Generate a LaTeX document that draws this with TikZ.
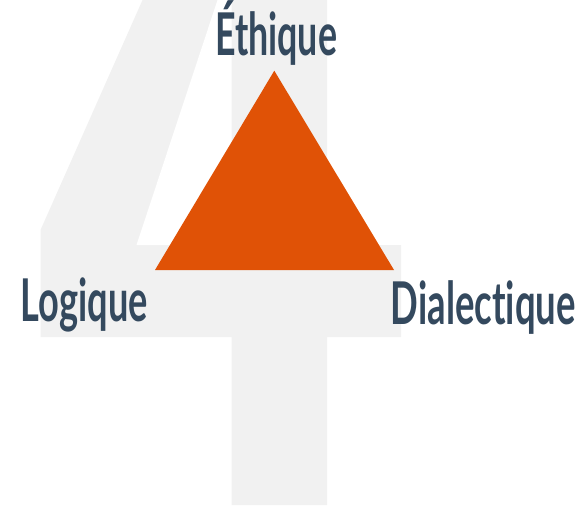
\documentclass[tikz,border=0pt]{standalone}
\usepackage{fontspec}
\setmainfont{Lato}[Ligatures={NoCommon}]
\usepackage{graphicx}
\definecolor{fourgrey}{HTML}{F1F1F1}
\definecolor{triorange}{HTML}{E05206}
\definecolor{labelblue}{HTML}{34495E}
\newcommand\fitlabel[2]{\resizebox{#1}{\height}{#2}}
\tikzset{
  lbl/.style={inner sep=0pt, anchor=base west, text=labelblue,
    font=\bfseries\fontsize{59}{59}\selectfont},
}
\begin{document}
\begin{tikzpicture}[x=1pt,y=-1pt]
\useasboundingbox (0,0) rectangle (585,505);
% big background "4"
\fill[fourgrey] (142.5,0) -- (40.5,230) -- (40.5,337) -- (231.5,337) -- (231.5,505)
  -- (327,505) -- (327,337) -- (401,337) -- (401,245) -- (327,245) -- (327,0) -- cycle;
\fill[white] (217.5,0) -- (136.5,245) -- (231.5,245) -- (231.5,0) -- cycle;
% triangle
\coordinate (apex) at (274.3,70.7);
\coordinate (bl) at (155,270);
\coordinate (br) at (394,270);
\fill[triorange] (apex) -- (br) -- (bl) -- cycle;
% labels
\node[lbl] (eth) at (215,55.7) {\fitlabel{122pt}{Éthique}};
\node[lbl] (log) at (20.7,321.5) {\fitlabel{127pt}{Logique}};
\node[lbl] (dia) at (390.7,324) {\fitlabel{185pt}{Dialectique}};
\end{tikzpicture}
\end{document}
